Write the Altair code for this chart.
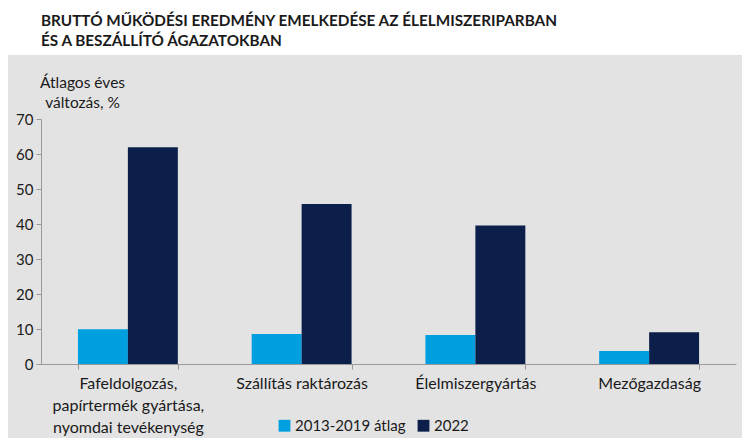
import altair as alt
import pandas as pd

categories = [
    "Fafeldolgozás, papírtermék gyártása, nyomdai tevékenység",
    "Szállítás raktározás",
    "Élelmiszergyártás",
    "Mezőgazdaság",
]
series = ["2013-2019 átlag", "2022"]
values_avg = [9.9, 8.6, 8.3, 3.7]
values_2022 = [61.9, 45.7, 39.6, 9.1]
colors = ["#00a0e0", "#0c1f4a"]
title_lines = [
    "BRUTTÓ MŰKÖDÉSI EREDMÉNY EMELKEDÉSE AZ ÉLELMISZERIPARBAN",
    "ÉS A BESZÁLLÍTÓ ÁGAZATOKBAN",
]
y_title = ["Átlagos éves", "változás, %"]
y_ticks = [0, 10, 20, 30, 40, 50, 60, 70]

rows = []
for c, a, b in zip(categories, values_avg, values_2022):
    rows.append({"cat": c, "series": series[0], "value": a})
    rows.append({"cat": c, "series": series[1], "value": b})
df = pd.DataFrame(rows)

FONT = "Lato"
W, H = 695, 245
PAD_L, PAD_T, PAD_R, PAD_B = 33, 111, 6, 74

bg = alt.Chart(alt.Data(values=[{}])).mark_rect(color="#e3e3e3").encode(
    x=alt.value(-PAD_L),
    x2=alt.value(W + PAD_R),
    y=alt.value(-64),
    y2=alt.value(H + PAD_B),
)

bars = alt.Chart(df).mark_bar().encode(
    x=alt.X(
        "cat:N",
        sort=categories,
        scale=alt.Scale(paddingInner=0.425, paddingOuter=0.2125),
        axis=alt.Axis(
            title=None,
            zindex=1,
            labelAngle=0,
            labelFont=FONT,
            labelFontSize=16,
            labelColor="#1a1a1a",
            labelLimit=0,
            labelPadding=6,
            labelBaseline="top",
            labelLineHeight=22,
            labelExpr="split(replace(datum.label, /, /g, ',|'), '|')",
            tickBand="extent",
            tickSize=5,
            tickColor="#999999",
            domainColor="#999999",
        ),
    ),
    xOffset=alt.XOffset("series:N", sort=series, scale=alt.Scale(paddingInner=0, paddingOuter=0)),
    y=alt.Y(
        "value:Q",
        scale=alt.Scale(domain=[0, 70], nice=False),
        axis=alt.Axis(
            values=y_ticks,
            zindex=1,
            grid=False,
            title=y_title,
            titleAngle=0,
            titleAlign="center",
            titleBaseline="alphabetic",
            titleX=41,
            titleY=-32,
            titleFont=FONT,
            titleFontSize=15.5,
            titleFontWeight="normal",
            titleColor="#1a1a1a",
            titleLineHeight=20,
            labelFont=FONT,
            labelFontSize=15,
            labelColor="#1a1a1a",
            labelPadding=3,
            tickSize=5,
            tickColor="#999999",
            domainColor="#999999",
        ),
    ),
    color=alt.Color(
        "series:N",
        sort=series,
        scale=alt.Scale(domain=series, range=colors),
        legend=alt.Legend(
            title=None,
            orient="none",
            legendX=236,
            legendY=299,
            direction="horizontal",
            symbolType="square",
            symbolSize=140,
            symbolStrokeWidth=0,
            labelFont=FONT,
            labelFontSize=15,
            labelColor="#1a1a1a",
            columnPadding=10,
            labelOffset=3,
        ),
    ),
)

chart = alt.layer(bg, bars).properties(
    width=W,
    height=H,
    autosize=alt.AutoSizeParams(type="none"),
    padding={"left": PAD_L, "top": PAD_T, "right": PAD_R, "bottom": PAD_B},
    background="white",
    title=alt.TitleParams(
        text=title_lines,
        anchor="start",
        frame="group",
        font=FONT,
        fontSize=15.3,
        fontWeight="bold",
        color="#1a1a1a",
        lineHeight=19.5,
        baseline="alphabetic",
        offset=-6,
    ),
).configure_view(stroke=None)

chart.save("out.html", embed_options={"renderer": "svg", "actions": False})
